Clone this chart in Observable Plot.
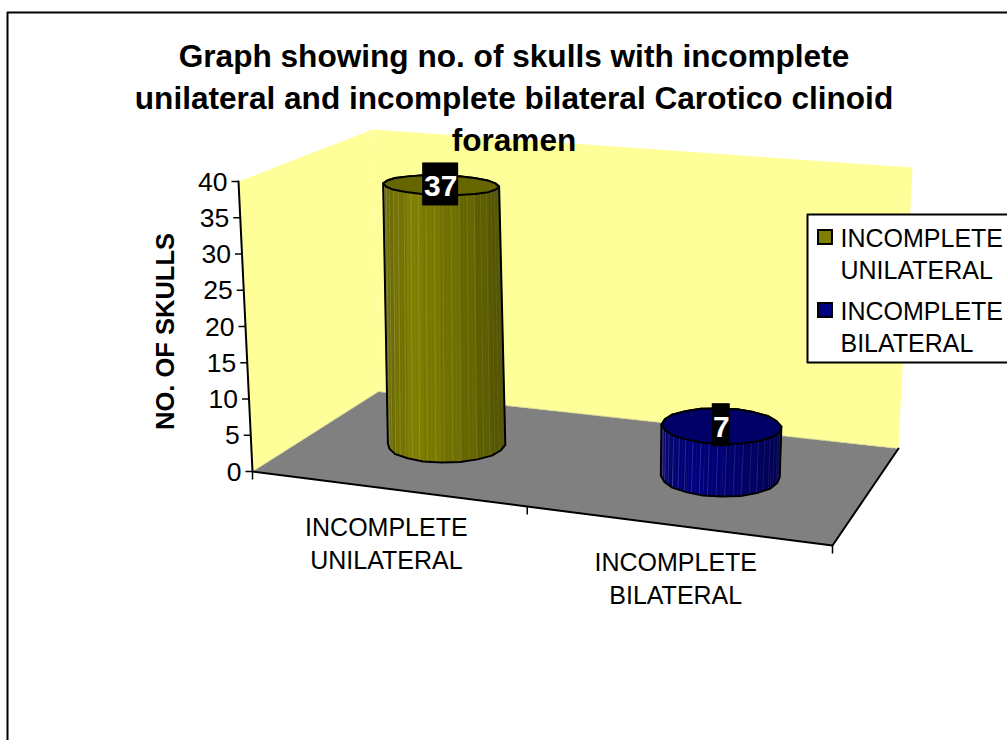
<!DOCTYPE html>
<html>
<head>
<meta charset="utf-8">
<script src="https://cdn.jsdelivr.net/npm/d3@7"></script>
<script src="https://cdn.jsdelivr.net/npm/@observablehq/plot@0.6"></script>
<style>html,body{margin:0;padding:0;background:#fff;overflow:hidden}</style>
</head>
<body>
<div id="chart"></div>
<script>
const categories = ["INCOMPLETE UNILATERAL", "INCOMPLETE BILATERAL"];
const values = [37, 7];
const barColors = ["#808000", "#000080"];
const topColors = ["#666600", "#000066"];
const yTicks = [0, 5, 10, 15, 20, 25, 30, 35, 40];
const titleLines = ["Graph showing no. of skulls with incomplete", "unilateral and incomplete bilateral Carotico clinoid", "foramen"];
const yTitle = "NO. OF SKULLS";
const font = "Liberation Sans, Arial, sans-serif";

// Oblique 3D frame: floor and ceiling planes of the chart box, pixel corners of the box.
function homography(q) {
  const [[x0,y0],[x1,y1],[x2,y2],[x3,y3]] = q;
  const dx1=x1-x2, dx2=x3-x2, sx=x0-x1+x2-x3, dy1=y1-y2, dy2=y3-y2, sy=y0-y1+y2-y3;
  const den=dx1*dy2-dx2*dy1, g=(sx*dy2-dx2*sy)/den, h=(dx1*sy-sx*dy1)/den;
  const a=x1-x0+g*x1, b=x3-x0+h*x3, d=y1-y0+g*y1, e=y3-y0+h*y3;
  return (u,v)=>{const w=g*u+h*v+1;return [(a*u+b*v+x0)/w,(d*u+e*v+y0)/w];};
}
const floorH = homography([[252,471],[832,545],[898,448],[378,391]]);
const ceilH  = homography([[238,181],[851,236],[912,167],[372,129]]);
const valueT = d3.scaleLinear([0,40],[0,1]);
function project(u,d,v){
  const f=floorH(u,d), c=ceilH(u,d), t=valueT(v);
  return [f[0]+(c[0]-f[0])*t, f[1]+(c[1]-f[1])*t];
}
const uOf = i => (i+0.5)/categories.length;
const RUs=[0.103,0.098], RD=0.2, DC=0.5, N=20;
// cylinder axis leans and its section flattens slightly with height
const lean = v => 0.006*valueT(v);
const flat = v => 1-0.25*valueT(v);

const facets=[], stripes=[], hulls=[], tops=[], labels=[];
values.forEach((val,i)=>{
  const RU=RUs[i];
  const ring=v=>d3.range(N).map(k=>{
    const a=2*Math.PI*k/N, w=1+0.012*(k%2);
    return project(uOf(i)+lean(v)+RU*w*Math.cos(a), DC+RD*flat(v)*w*Math.sin(a), v);
  });
  const base=ring(0), top=ring(val);
  const xs=base.map(p=>p[0]), lo=d3.min(xs), hi=d3.max(xs);
  const shade=d3.scaleLinear([0,0.25,0.6,1],[0.8,1,0.85,0.62]);
  const order=d3.range(N).sort((a,b)=>Math.sin(2*Math.PI*b/N)-Math.sin(2*Math.PI*a/N));
  order.forEach(k=>{
    const k2=(k+1)%N;
    const t=((base[k][0]+base[k2][0])/2-lo)/(hi-lo);
    const col=d3.rgb(barColors[i]);
    const s=shade(t);
    const fill=d3.rgb(col.r*s,col.g*s,col.b*s).formatHex();
    const id=`f${i}-${k}`;
    [base[k],base[k2],top[k2],top[k]].forEach(p=>facets.push({id,x:p[0],y:p[1],fill}));
  });
  // fine ribs on the visible front of the cylinder
  d3.range(0,44).forEach(r=>{
    const a=Math.PI+0.36+Math.PI*r/44;
    const b=project(uOf(i)+RU*Math.cos(a),DC+RD*Math.sin(a),0);
    const c=project(uOf(i)+lean(val)+RU*Math.cos(a),DC+RD*flat(val)*Math.sin(a),val);
    const op=(r%2?0.05:0.2)*(1-0.7*r/44);
    stripes.push({id:`s${i}-${r}`,x:b[0],y:b[1],op});
    stripes.push({id:`s${i}-${r}`,x:c[0],y:c[1],op});
  });
  const hull=d3.polygonHull(base.concat(top));
  hull.concat([hull[0]]).forEach(p=>hulls.push({id:i,x:p[0],y:p[1]}));
  top.concat([top[0]]).forEach(p=>tops.push({id:i,x:p[0],y:p[1],fill:topColors[i]}));
  const c=project(uOf(i)+lean(val),DC,val);
  labels.push({x:c[0],y:c[1],text:String(val),half:String(val).length*9});
});

const poly=(pts,id)=>pts.map(p=>({id,x:p[0],y:p[1]}));
const rightWall=[project(0,1,0),project(1,1,0),project(1,1,40),project(0,1,40)];
const leftWall=[project(0,0,0),project(0,1,0),project(0,1,40),project(0,0,40)];
const floorQ=[project(0,0,0),project(1,0,0),project(1,1,0),project(0,1,0)];

const yAxis=yTicks.map(v=>{const p=project(0,0,v);return {v,x:p[0],y:p[1]};});
const xTickPts=[0,0.5,1].map(u=>{const p=project(u,0,0);return {x:p[0],y:p[1]};});

const xLabelLines=[];
categories.forEach((c,i)=>{
  const p=project(uOf(i),0,0);
  c.split(" ").forEach((w,j)=>xLabelLines.push({text:w,x:p[0],y:p[1]+(i?45:47)+j*33.5}));
});

const legendY=[246,319];
const legendLines=[];
categories.forEach((c,i)=>c.split(" ").forEach((w,j)=>legendLines.push({text:w,x:840,y:legendY[i]+j*32.5})));
const legendSw=categories.map((c,i)=>({x1:818,x2:832,y1:legendY[i]-16,y2:legendY[i]-2,fill:barColors[i]}));

const plot=Plot.plot({
  width:1007,height:740,
  marginTop:0,marginRight:0,marginBottom:0,marginLeft:0,
  x:{domain:[0,1007],range:[0,1007],axis:null},
  y:{domain:[0,740],range:[0,740],axis:null},
  marks:[
    // outer frame (runs off the picture at right and bottom)
    Plot.line([{x:7,y:740},{x:7,y:12},{x:1007,y:12}],{x:"x",y:"y",stroke:"#000",strokeWidth:2}),
    // walls and floor
    Plot.line(poly(rightWall,"b"),{x:"x",y:"y",z:"id",fill:"#ffff99",stroke:"none"}),
    Plot.line(poly(leftWall,"l"),{x:"x",y:"y",z:"id",fill:"#ffff99",stroke:"none"}),
    Plot.line(poly(floorQ,"f"),{x:"x",y:"y",z:"id",fill:"#808080",stroke:"none"}),
    Plot.line(poly([floorQ[3],floorQ[2]],"e"),{x:"x",y:"y",z:"id",stroke:"#dddd99",strokeWidth:1,strokeDasharray:"8 2"}),
    Plot.line(poly([floorQ[0],floorQ[3]],"e2"),{x:"x",y:"y",z:"id",stroke:"#dddd99",strokeWidth:1}),
    // axes
    Plot.line(yAxis,{x:"x",y:"y",stroke:"#000",strokeWidth:2}),
    Plot.line(poly([floorQ[0],floorQ[1],floorQ[2]],"x"),{x:"x",y:"y",z:"id",stroke:"#000",strokeWidth:2}),
    Plot.link(yAxis,{x1:"x",y1:"y",x2:d=>d.x-7,y2:"y",stroke:"#000",strokeWidth:1.5}),
    Plot.link(xTickPts,{x1:"x",y1:"y",x2:"x",y2:d=>d.y+8,stroke:"#000",strokeWidth:1.5}),
    Plot.text(yAxis,{x:d=>d.x-11,y:d=>d.y+9,text:d=>String(d.v),textAnchor:"end",lineAnchor:"bottom",fontSize:26.5,fontFamily:font,fill:"#000"}),
    Plot.text(xLabelLines,{x:"x",y:"y",text:"text",textAnchor:"middle",lineAnchor:"bottom",fontSize:25,fontFamily:font,fill:"#000"}),
    Plot.text([yTitle],{x:()=>173,y:()=>331,text:d=>d,rotate:-90,textAnchor:"middle",lineAnchor:"bottom",fontSize:25.5,fontWeight:"bold",fontFamily:font,fill:"#000"}),
    // cylinders
    Plot.line(facets,{x:"x",y:"y",z:"id",fill:"fill",stroke:"fill",strokeWidth:0.5}),
    Plot.line(stripes,{x:"x",y:"y",z:"id",stroke:"#fff",strokeOpacity:"op",strokeWidth:1}),
    Plot.line(hulls,{x:"x",y:"y",z:"id",stroke:"#000",strokeWidth:2}),
    Plot.line(tops,{x:"x",y:"y",z:"id",fill:"fill",stroke:"#000",strokeWidth:2}),
    // value labels
    Plot.rect(labels,{x1:d=>d.x-d.half,x2:d=>d.x+d.half,y1:d=>d.y-22,y2:d=>d.y+21,fill:"#000"}),
    Plot.text(labels,{x:"x",y:d=>d.y+11,text:"text",textAnchor:"middle",lineAnchor:"bottom",fontSize:30,fontWeight:"bold",fontFamily:font,fill:"#fff"}),
    // title
    Plot.text(titleLines,{x:()=>513.5,y:(d,i)=>66+i*42,text:d=>d,textAnchor:"middle",lineAnchor:"bottom",fontSize:31.6,fontWeight:"bold",fontFamily:font,fill:"#000"}),
    // legend
    Plot.rect([0],{x1:()=>807,x2:()=>1007,y1:()=>214,y2:()=>362,fill:"#fff"}),
    Plot.line([{x:1007,y:214},{x:807,y:214},{x:807,y:362},{x:1007,y:362}],{x:"x",y:"y",stroke:"#000",strokeWidth:2}),
    Plot.rect(legendSw,{x1:"x1",x2:"x2",y1:"y1",y2:"y2",fill:"fill",stroke:"#000",strokeWidth:2}),
    Plot.text(legendLines,{x:"x",y:"y",text:"text",textAnchor:"start",lineAnchor:"bottom",fontSize:25,fontFamily:font,fill:"#000"})
  ]
});
document.getElementById("chart").appendChild(plot);
</script>
</body>
</html>
